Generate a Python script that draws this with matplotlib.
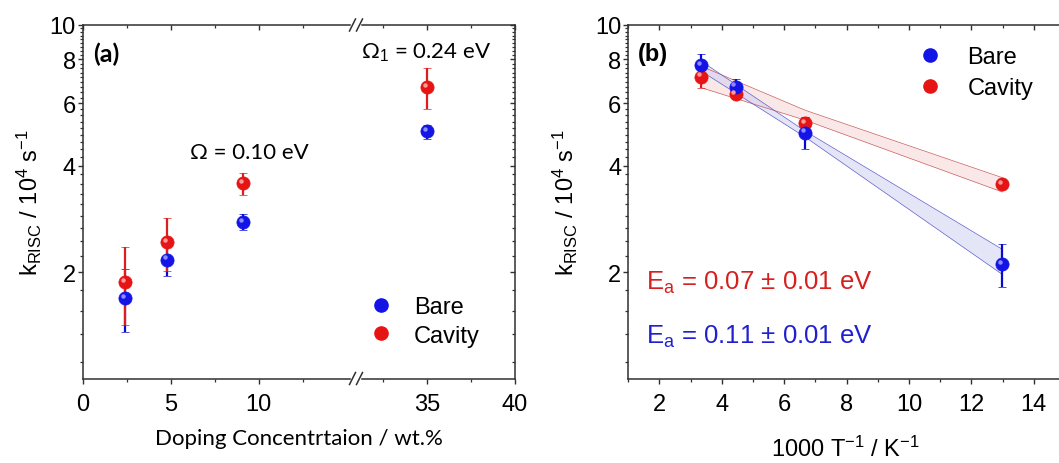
import numpy as np
import matplotlib
matplotlib.use('Agg')
import matplotlib.pyplot as plt
from matplotlib.ticker import FixedLocator, NullFormatter, FuncFormatter
from matplotlib.lines import Line2D
from matplotlib.transforms import ScaledTranslation

# panel (a): kRISC (1e4 s^-1) vs doping concentration (wt.%)
dop = [2.4, 4.8, 9.1, 35.0]
bare_a = [1.69, 2.17, 2.77, 5.00]
bare_a_lo = [1.35, 1.95, 2.63, 4.75]
bare_a_hi = [2.04, 2.40, 2.92, 5.21]
cav_a = [1.87, 2.43, 3.57, 6.66]
cav_a_lo = [1.42, 2.01, 3.30, 5.78]
cav_a_hi = [2.35, 2.85, 3.82, 7.55]

# panel (b): kRISC vs 1000/T
inv_t = [3.33, 4.44, 6.67, 12.99]
bare_b = [7.70, 6.69, 4.96, 2.11]
bare_b_lo = [7.06, 6.36, 4.47, 1.82]
bare_b_hi = [8.30, 7.05, 5.49, 2.40]
cav_b = [7.14, 6.36, 5.27, 3.54]
cav_b_lo = [6.65, 6.20, 5.01, 3.43]
cav_b_hi = [7.57, 6.53, 5.50, 3.62]

# fit confidence bands (read at a few x)
band_x = [3.33, 6.67, 12.99]
bare_band_lo = [7.41, 4.82, 1.97]
bare_band_hi = [7.91, 5.01, 2.32]
cav_band_lo = [6.65, 5.38, 3.37]
cav_band_hi = [7.65, 5.74, 3.70]

y_major = [2, 4, 6, 8, 10]
y_minor = [m + k * 2 / 9 for m in range(0, 10, 2) for k in range(1, 9) if m + k * 2 / 9 > 1.01]

BLUE = '#1414e6'
BLUE_E = '#0a0acc'
BLUE_HL = '#8c8cff'
RED = '#e61414'
RED_E = '#dd1e1e'
RED_HL = '#ff9a9a'
SPINE = '#303030'

plt.rcParams['font.family'] = ['Liberation Sans', 'DejaVu Sans']
plt.rcParams['mathtext.fontset'] = 'custom'
plt.rcParams['mathtext.rm'] = 'Liberation Sans'
plt.rcParams['mathtext.it'] = 'Liberation Sans:italic'
plt.rcParams['mathtext.bf'] = 'Liberation Sans:bold'
plt.rcParams['axes.edgecolor'] = SPINE
plt.rcParams['axes.linewidth'] = 1.1
FS = 17
CAL = ['Lato', 'DejaVu Sans']

W, H = 1059, 464
fig = plt.figure(figsize=(W / 100, H / 100), dpi=100)


def px(x0, y0, x1, y1):
    return [x0 / W, 1 - y1 / H, (x1 - x0) / W, (y1 - y0) / H]


ax1 = fig.add_axes(px(83, 26, 350, 379.5))
ax2 = fig.add_axes(px(362, 26, 515, 379.5))
axb = fig.add_axes(px(628.3, 26, 1065, 379.5))


def style_y(ax, side):
    ax.set_yscale('log')
    ax.set_ylim(1, 10)
    ax.yaxis.set_major_locator(FixedLocator(y_major))
    ax.yaxis.set_minor_locator(FixedLocator(y_minor))
    ax.yaxis.set_major_formatter(FuncFormatter(lambda v, p: f'{v:g}'))
    ax.yaxis.set_minor_formatter(NullFormatter())
    if side == 'left':
        ax.tick_params(axis='y', which='both', direction='out', left=True, right=False,
                       labelsize=FS, pad=1.5)
    else:
        ax.yaxis.tick_right()
        ax.tick_params(axis='y', which='both', direction='in', left=False, right=True,
                       labelright=False, labelleft=False)
    ax.tick_params(axis='y', which='major', length=3.6, width=1, color=SPINE)
    ax.tick_params(axis='y', which='minor', length=2.2, width=0.9, color=SPINE)


def style_x(ax, lims, major, minor):
    ax.set_xlim(*lims)
    ax.xaxis.set_major_locator(FixedLocator(major))
    ax.xaxis.set_minor_locator(FixedLocator(minor))
    ax.xaxis.set_major_formatter(FuncFormatter(lambda v, p: f'{v:g}'))
    ax.tick_params(axis='x', which='both', direction='out', top=False, labelsize=FS, pad=7)
    ax.tick_params(axis='x', which='major', length=3.6, width=1, color=SPINE)
    ax.tick_params(axis='x', which='minor', length=2.2, width=0.9, color=SPINE)
    sec = ax.secondary_xaxis('top')
    sec.xaxis.set_major_locator(FixedLocator(major))
    sec.xaxis.set_minor_locator(FixedLocator(minor))
    sec.tick_params(axis='x', which='both', direction='in', labeltop=False, color=SPINE)
    sec.tick_params(axis='x', which='major', length=3.6, width=1)
    sec.tick_params(axis='x', which='minor', length=2.2, width=0.9)
    sec.spines['top'].set_visible(False)


style_y(ax1, 'left')
style_y(ax2, 'right')
style_y(axb, 'left')
style_x(ax1, (0, 15.2), [0, 5, 10], [2.5, 7.5, 12.5])
style_x(ax2, (31.3, 40), [35, 40], [32.5, 37.5])
style_x(axb, (1, 15), [2, 4, 6, 8, 10, 12, 14], [1, 3, 5, 7, 9, 11, 13, 15])
ax1.spines['right'].set_visible(False)
ax2.spines['left'].set_visible(False)
axb.spines['right'].set_visible(False)


def balls(ax, x, y, lo, hi, col, ecol, hl):
    y = np.asarray(y)
    err = [y - np.asarray(lo), np.asarray(hi) - y]
    ax.errorbar(x, y, yerr=err, fmt='o', ms=9.5, mfc=col, mec=col, mew=0.5,
                ecolor=ecol, elinewidth=1.6, capsize=3.2, capthick=1.6, zorder=3)
    off = ax.transData + ScaledTranslation(-1.6 / 72, 1.6 / 72, fig.dpi_scale_trans)
    ax.plot(x, y, 'o', ms=3.2, color=hl, mew=0, transform=off, zorder=4)


for ax in (ax1, ax2):
    balls(ax, dop, bare_a, bare_a_lo, bare_a_hi, BLUE, BLUE_E, BLUE_HL)
    balls(ax, dop, cav_a, cav_a_lo, cav_a_hi, RED, RED_E, RED_HL)

# bands in panel (b)
axb.fill_between(band_x, cav_band_lo, cav_band_hi, color='#f5cccc', alpha=0.45, lw=0, zorder=1)
axb.plot(band_x, cav_band_lo, color='#c86060', lw=0.5, zorder=1.5)
axb.plot(band_x, cav_band_hi, color='#c86060', lw=0.5, zorder=1.5)
axb.fill_between(band_x, bare_band_lo, bare_band_hi, color='#ccccf2', alpha=0.5, lw=0, zorder=1)
axb.plot(band_x, bare_band_lo, color='#6060c8', lw=0.5, zorder=1.5)
axb.plot(band_x, bare_band_hi, color='#6060c8', lw=0.5, zorder=1.5)
balls(axb, inv_t, cav_b, cav_b_lo, cav_b_hi, RED, RED_E, RED_HL)
balls(axb, inv_t, bare_b, bare_b_lo, bare_b_hi, BLUE, BLUE_E, BLUE_HL)

# axis break marks
for yb in (26, 379.5):
    for xb in (352.5, 359.5):
        fig.add_artist(Line2D([(xb - 3) / W, (xb + 3) / W], [1 - (yb + 6) / H, 1 - (yb - 6) / H],
                              color=SPINE, lw=1.1))

# legends
handles = [Line2D([], [], ls='none', marker='o', ms=9.5, color=BLUE, mec=BLUE),
           Line2D([], [], ls='none', marker='o', ms=9.5, color=RED, mec=RED)]
fig.legend(handles, ['Bare', 'Cavity'], loc='upper left', bbox_to_anchor=(369 / W, 1 - 297 / H),
           frameon=False, fontsize=FS, handlelength=1.0, handletextpad=0.9,
           labelspacing=0.28, borderpad=0, borderaxespad=0)
fig.legend(handles, ['Bare', 'Cavity'], loc='upper left', bbox_to_anchor=(918 / W, 1 - 47 / H),
           frameon=False, fontsize=FS, handlelength=1.0, handletextpad=1.1,
           labelspacing=0.4, borderpad=0, borderaxespad=0)

# texts
fig.text(93 / W, 1 - 54 / H, '(a)', fontsize=18, fontweight='bold', family=CAL, va='center')
fig.text(638 / W, 1 - 54 / H, '(b)', fontsize=17, fontweight='bold', va='center')
fig.text(249 / W, 1 - 153 / H, 'Ω = 0.10 eV', fontsize=16, family=CAL, ha='center', va='center')
fig.text(426 / W, 1 - 53 / H, 'Ω$_1$ = 0.24 eV', fontsize=16, family=CAL, ha='center', va='center')
fig.text(646 / W, 1 - 283 / H, 'E$_\\mathrm{a}$ = 0.07 ± 0.01 eV', fontsize=18.5, color='#d62020',
         va='center')
fig.text(646 / W, 1 - 337 / H, 'E$_\\mathrm{a}$ = 0.11 ± 0.01 eV', fontsize=18.5, color='#2020d0',
         va='center')

ylab = 'k$_\\mathrm{RISC}$ / 10$^4$ s$^{-1}$'
fig.text(29 / W, 1 - 203 / H, ylab, fontsize=FS, rotation=90, ha='center', va='center')
fig.text(565 / W, 1 - 203 / H, ylab, fontsize=FS, rotation=90, ha='center', va='center')
fig.text(299 / W, 1 - 439 / H, 'Doping Concentrtaion / wt.%', fontsize=16, family=CAL,
         ha='center', va='center')
fig.text(845 / W, 1 - 449 / H, '1000 T$^{-1}$ / K$^{-1}$', fontsize=FS, ha='center', va='center')

fig.savefig('out.png', dpi=100)
